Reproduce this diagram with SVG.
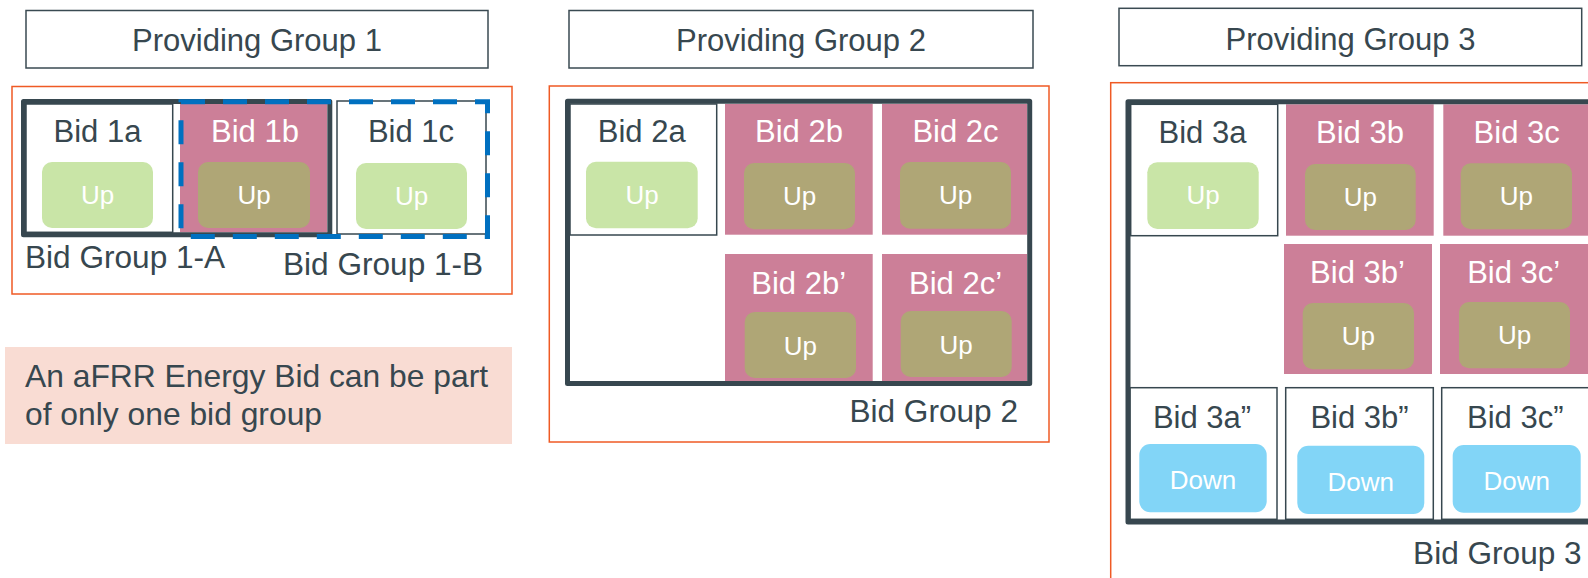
<svg xmlns="http://www.w3.org/2000/svg" width="1588" height="578" viewBox="0 0 1588 578">
<style>
text{font-family:"Liberation Sans",Arial,sans-serif}
.pg{fill:#fff;stroke:#3a4a52;stroke-width:1.5}
.pgt{font-size:31px;fill:#37474f;text-anchor:middle}
.org{fill:none;stroke:#ef5a24;stroke-width:1.5}
.thick{fill:none;stroke:#37474f;stroke-width:5;stroke-linejoin:round}
.cell{fill:#fff;stroke:#37474f;stroke-width:1.5}
.pink{fill:#cc7f98}
.lbl{font-size:31px;fill:#37474f;text-anchor:middle}
.lblw{font-size:31px;fill:#fff;text-anchor:middle}
.up1{fill:#c9e5a7}
.up2{fill:#afa676}
.dn{fill:#82d5f7}
.ut{font-size:26px;fill:#fff;text-anchor:middle}
.bg{font-size:31.6px;fill:#37474f}
.nt{font-size:31.8px;fill:#37474f}
.dash{fill:none;stroke:#0070c0;stroke-width:5;stroke-dasharray:24 18}
</style>

<g id="providing-group-1">
<rect class="pg" x="26" y="10.5" width="462" height="57.5"/>
<text class="pgt" x="257" y="51">Providing Group 1</text>
</g>
<g id="providing-group-2">
<rect class="pg" x="569" y="10.5" width="464" height="57.5"/>
<text class="pgt" x="801" y="51">Providing Group 2</text>
</g>
<g id="providing-group-3">
<rect class="pg" x="1119" y="8.3" width="462.7" height="57.4"/>
<text class="pgt" x="1350.5" y="50">Providing Group 3</text>
</g>

<g id="group1-frame"><rect class="org" x="12" y="86.5" width="500" height="207.5"/></g>
<g id="bid-1a">
<rect class="cell" x="26" y="104" width="146.7" height="128.3"/>
<text class="lbl" x="97.5" y="142">Bid 1a</text>
<rect class="up1" x="42" y="162" width="111" height="66" rx="10"/>
<text class="ut" x="97.5" y="204">Up</text>
</g>
<g id="bid-1b">
<rect class="pink" x="180" y="103.3" width="147" height="129"/>
<text class="lblw" x="255" y="142">Bid 1b</text>
<rect class="up2" x="198" y="162" width="112" height="66" rx="10"/>
<text class="ut" x="254" y="204">Up</text>
</g>
<g id="bid-1c">
<rect class="cell" x="337" y="101" width="149" height="133"/>
<text class="lbl" x="411" y="142">Bid 1c</text>
<rect class="up1" x="356" y="163" width="111" height="66" rx="10"/>
<text class="ut" x="411.5" y="205">Up</text>
</g>
<g id="bid-group-1a">
<rect class="thick" x="23.5" y="101.5" width="306.3" height="133.3"/>
<text class="bg" x="25" y="268">Bid Group 1-A</text>
</g>
<g id="bid-group-1b">
<rect class="dash" x="181" y="101.7" width="306.5" height="134.8"/>
<text class="bg" x="283" y="275">Bid Group 1-B</text>
</g>

<g id="note">
<rect x="5" y="347" width="507" height="97" fill="#f9dcd3"/>
<text class="nt" x="25" y="387">An aFRR Energy Bid can be part</text>
<text class="nt" x="25" y="425">of only one bid group</text>
</g>

<g id="group2-frame"><rect class="org" x="549.3" y="86" width="499.7" height="356"/></g>
<g id="bid-2a">
<rect class="cell" x="570" y="104" width="146.7" height="131"/>
<text class="lbl" x="641.7" y="142">Bid 2a</text>
<rect class="up1" x="586" y="161.7" width="111.7" height="66.6" rx="10"/>
<text class="ut" x="642" y="204">Up</text>
</g>
<g id="bid-2b">
<rect class="pink" x="725" y="104" width="147.7" height="130.7"/>
<text class="lblw" x="799" y="142">Bid 2b</text>
<rect class="up2" x="744" y="163" width="111" height="66.3" rx="10"/>
<text class="ut" x="799.5" y="205">Up</text>
</g>
<g id="bid-2c">
<rect class="pink" x="882" y="104" width="145" height="130.7"/>
<text class="lblw" x="955.5" y="142">Bid 2c</text>
<rect class="up2" x="900" y="162" width="111" height="66.7" rx="10"/>
<text class="ut" x="955.5" y="204">Up</text>
</g>
<g id="bid-2b-prime">
<rect class="pink" x="725" y="254" width="147.7" height="127"/>
<text class="lblw" x="798.7" y="294.3">Bid 2b’</text>
<rect class="up2" x="744.7" y="312" width="111.3" height="66" rx="10"/>
<text class="ut" x="800.3" y="355">Up</text>
</g>
<g id="bid-2c-prime">
<rect class="pink" x="882" y="254" width="145" height="127"/>
<text class="lblw" x="955.5" y="294.3">Bid 2c’</text>
<rect class="up2" x="900.7" y="311" width="111" height="66" rx="10"/>
<text class="ut" x="956.2" y="354">Up</text>
</g>
<g id="bid-group-2">
<rect class="thick" x="567.5" y="101.3" width="462.2" height="282.2"/>
<text class="bg" x="1018" y="422" text-anchor="end">Bid Group 2</text>
</g>

<g id="group3-frame"><rect class="org" x="1110.7" y="82.7" width="520" height="520"/></g>
<g id="bid-3a">
<rect class="cell" x="1130.7" y="104.3" width="147" height="131.4"/>
<text class="lbl" x="1202.5" y="143.3">Bid 3a</text>
<rect class="up1" x="1147.3" y="162.3" width="111.4" height="66.7" rx="10"/>
<text class="ut" x="1203" y="204">Up</text>
</g>
<g id="bid-3b">
<rect class="pink" x="1286" y="104.3" width="147.7" height="131.4"/>
<text class="lblw" x="1360" y="143.3">Bid 3b</text>
<rect class="up2" x="1305" y="164" width="110.7" height="66" rx="10"/>
<text class="ut" x="1360.3" y="205.5">Up</text>
</g>
<g id="bid-3c">
<rect class="pink" x="1443.3" y="104.3" width="160" height="131.4"/>
<text class="lblw" x="1516.7" y="143.3">Bid 3c</text>
<rect class="up2" x="1460.7" y="163.3" width="111.3" height="66" rx="10"/>
<text class="ut" x="1516.3" y="205">Up</text>
</g>
<g id="bid-3b-prime">
<rect class="pink" x="1284" y="244" width="148" height="130"/>
<text class="lblw" x="1357.5" y="283.3">Bid 3b’</text>
<rect class="up2" x="1302.7" y="303" width="111.3" height="66.3" rx="10"/>
<text class="ut" x="1358.3" y="345">Up</text>
</g>
<g id="bid-3c-prime">
<rect class="pink" x="1440" y="244" width="160" height="130"/>
<text class="lblw" x="1513.7" y="283.3">Bid 3c’</text>
<rect class="up2" x="1459" y="302" width="111" height="66.3" rx="10"/>
<text class="ut" x="1514.5" y="344">Up</text>
</g>
<g id="bid-3a-dprime">
<rect class="cell" x="1130" y="387.7" width="147" height="131.6"/>
<text class="lbl" x="1202" y="428.3">Bid 3a”</text>
<rect class="dn" x="1139.3" y="444" width="127.4" height="68.3" rx="11"/>
<text class="ut" x="1203" y="489.3">Down</text>
</g>
<g id="bid-3b-dprime">
<rect class="cell" x="1285.7" y="387.7" width="147.6" height="131.6"/>
<text class="lbl" x="1359.5" y="428.3">Bid 3b”</text>
<rect class="dn" x="1297.3" y="445.7" width="127" height="68.3" rx="11"/>
<text class="ut" x="1360.8" y="491">Down</text>
</g>
<g id="bid-3c-dprime">
<rect class="cell" x="1441.7" y="387.7" width="160" height="131.6"/>
<text class="lbl" x="1515.3" y="428.3">Bid 3c”</text>
<rect class="dn" x="1452.7" y="445" width="128" height="67.7" rx="11"/>
<text class="ut" x="1516.7" y="490">Down</text>
</g>
<g id="bid-group-3">
<rect class="thick" x="1128" y="101.7" width="470" height="420.3"/>
<text class="bg" x="1581.7" y="564" text-anchor="end">Bid Group 3</text>
</g>
</svg>
